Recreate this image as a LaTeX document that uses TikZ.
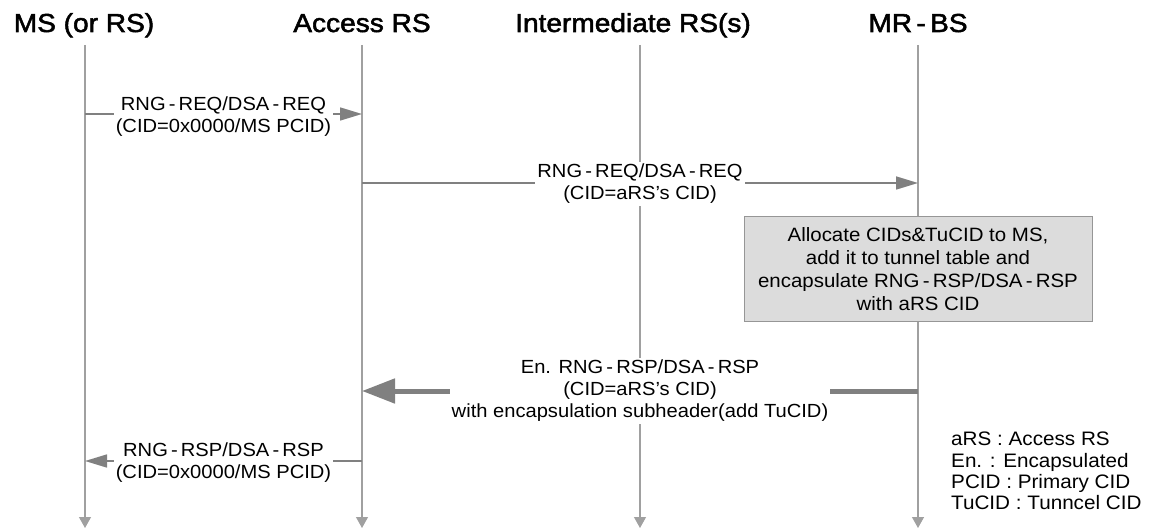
\documentclass[tikz,border=0pt]{standalone}
\usepackage{fontspec}
\setmainfont{Liberation Sans}[FakeStretch=1.06]
\newfontfamily\titlefam{Liberation Sans}[FakeStretch=1.08,FakeBold=2]
\newcommand\titlefont{\titlefam\fontsize{26}{30}\selectfont}
\newcommand\msgfont{\fontsize{19}{22}\selectfont}
\newcommand\keyfont{\fontsize{19.5}{21.2}\selectfont}
\definecolor{lifegray}{RGB}{160,160,160}
\definecolor{msggray}{RGB}{128,128,128}
\definecolor{boxgray}{RGB}{220,220,220}
\definecolor{boxedge}{RGB}{150,150,150}
\usetikzlibrary{arrows.meta,positioning,calc}

\begin{document}
\begin{tikzpicture}[x=1pt,y=-1pt,
  actor/.style={font=\titlefont, anchor=base, inner sep=0pt},
  life/.style={draw=lifegray, line width=1.2pt, -{Triangle[length=11pt,width=12pt]}},
  msg/.style={draw=msggray, line width=1.6pt, -{Triangle[length=22pt,width=13pt]}},
  bigmsg/.style={draw=msggray, line width=5pt, -{Triangle[length=33pt,width=24pt]}},
  lbl/.style={fill=white, align=center, inner sep=2pt, font=\msgfont},
  procbox/.style={draw=boxedge, fill=boxgray, line width=1pt, minimum width=348pt, minimum height=104pt, align=center, font=\fontsize{19.3}{23}\selectfont}
]
  \useasboundingbox (0,0) rectangle (1155,529);

  %% Entity headings
  \node[actor] (ms)  at (84,32)  {MS (or RS)};
  \node[actor] (ars) at (362,32) {Access RS};
  \node[actor] (irs) at (633,32) {Intermediate RS(s)};
  \node[actor] (bs)  at (918,32) {MR\,-\,BS};

  %% Lifelines
  \foreach \n/\x in {ms/85, ars/362, irs/640, bs/918} {
    \coordinate (l\n) at (\x,45);
    \coordinate (e\n) at (\x,528);
    \draw[life] (l\n) -- (e\n);
  }

  %% MS -> Access RS
  \draw[msg] (lms |- 0,114) -- (lars |- 0,114)
    node[lbl, midway, yshift=-3pt] (req1) {RNG\,-\,REQ/DSA\,-\,REQ\\(CID=0x0000/MS PCID)};

  %% Access RS -> MR-BS
  \draw[msg] (lars |- 0,183) -- (lbs |- 0,183)
    node[lbl, midway, yshift=-1pt] (req2) {RNG\,-\,REQ/DSA\,-\,REQ\\(CID=aRS's CID)};

  %% Processing at MR-BS
  \node[procbox] (alloc) at (918,269) {Allocate CIDs\&TuCID to MS,\\add it to tunnel table and\\encapsulate RNG\,-\,RSP/DSA\,-\,RSP\\with aRS CID};

  %% MR-BS -> Access RS (encapsulated)
  \draw[bigmsg] (lbs |- 0,391) -- (lars |- 0,391)
    node[lbl, midway] (rsp1) {En. RNG\,-\,RSP/DSA\,-\,RSP\\(CID=aRS's CID)\\with encapsulation subheader(add TuCID)};

  %% Access RS -> MS
  \draw[msg] (lars |- 0,461) -- (lms |- 0,461)
    node[lbl, midway, yshift=-2pt] (rsp2) {RNG\,-\,RSP/DSA\,-\,RSP\\(CID=0x0000/MS PCID)};

  %% Abbreviations
  \node[font=\keyfont, align=left, anchor=north west, inner sep=0pt] (key) at (951,432)
    {aRS : Access RS\\En. : Encapsulated\\PCID : Primary CID\\TuCID : Tunncel CID};
\end{tikzpicture}
\end{document}
